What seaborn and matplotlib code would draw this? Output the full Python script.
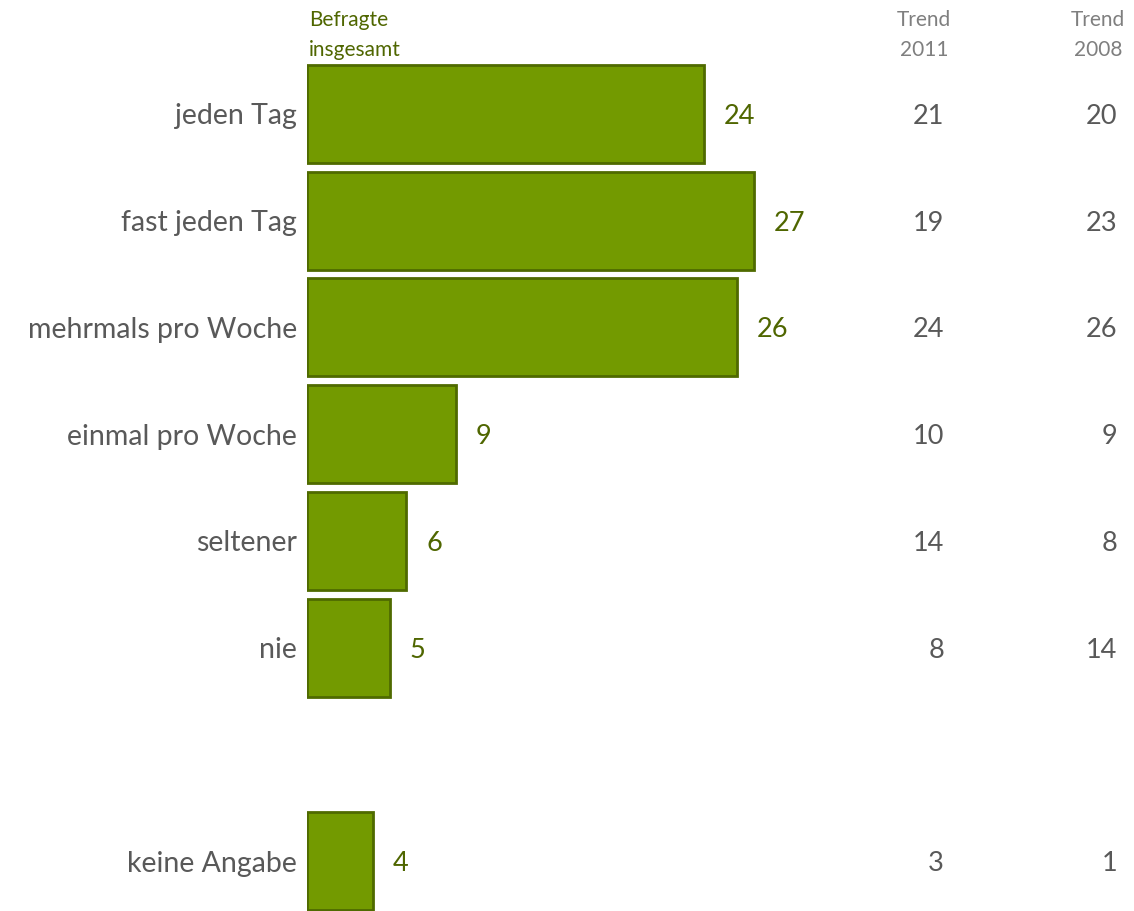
import matplotlib
matplotlib.use("Agg")
import matplotlib.pyplot as plt
import matplotlib.transforms as mtransforms
import pandas as pd
import seaborn as sns

categories = ["jeden Tag", "fast jeden Tag", "mehrmals pro Woche", "einmal pro Woche",
              "seltener", "nie", "keine Angabe"]
befragte = [24, 27, 26, 9, 6, 5, 4]
trend_2011 = [21, 19, 24, 10, 14, 8, 3]
trend_2008 = [20, 23, 26, 9, 8, 14, 1]
# empty slot between "nie" and "keine Angabe"
order = categories[:6] + [" "] + categories[6:]

bar_color = "#739a00"
edge_color = "#4f6a00"
label_green = "#4f6600"
gray = "#595959"
head_gray = "#7f7f7f"

sns.set_style("white")
plt.rcParams["font.family"] = ["Lato", "DejaVu Sans"]

df = pd.DataFrame({"cat": categories, "val": befragte})

fig = plt.figure(figsize=(11.34, 9.11), dpi=100)
W, H = 1134, 911
top_px, bot_px = 60.5, 914.5
ax = fig.add_axes([307 / W, (H - bot_px) / H, (W - 307) / W, (bot_px - top_px) / H])

sns.barplot(data=df, x="val", y="cat", order=order, orient="h", color=bar_color,
            saturation=1, width=0.92, edgecolor=edge_color, linewidth=2, ax=ax)

ax.set_xlim(0, 50)
ax.set_ylim(len(order) - 0.5, -0.5)
ax.set_xlabel("")
ax.set_ylabel("")
ax.set_xticks([])
ax.tick_params(axis="y", length=0, pad=7, labelsize=20.5, labelcolor=gray)
for lbl in ax.get_yticklabels():
    lbl.set_verticalalignment("center_baseline")
for s in ax.spines.values():
    s.set_visible(False)

offset = mtransforms.offset_copy(ax.transData, fig=fig, x=20, y=0, units="dots")
x2011 = mtransforms.blended_transform_factory(fig.transFigure, ax.transData)
for cat, v, t1, t2 in zip(categories, befragte, trend_2011, trend_2008):
    y = order.index(cat)
    ax.text(v, y, str(v), transform=offset, ha="left", va="center_baseline",
            fontsize=19.5, color=label_green)
    ax.text(944 / W, y, str(t1), transform=x2011, ha="right", va="center_baseline",
            fontsize=19.5, color=gray)
    ax.text(1117 / W, y, str(t2), transform=x2011, ha="right", va="center_baseline",
            fontsize=19.5, color=gray)

fig.text(309 / W, 1 - 10 / H, "Befragte\ninsgesamt", ha="left", va="top",
         fontsize=15, color=label_green, linespacing=1.65)
fig.text(924 / W, 1 - 10 / H, "Trend\n2011", ha="center", va="top",
         fontsize=15, color=head_gray, linespacing=1.65)
fig.text(1098 / W, 1 - 10 / H, "Trend\n2008", ha="center", va="top",
         fontsize=15, color=head_gray, linespacing=1.65)

fig.savefig("out.png", dpi=100)
